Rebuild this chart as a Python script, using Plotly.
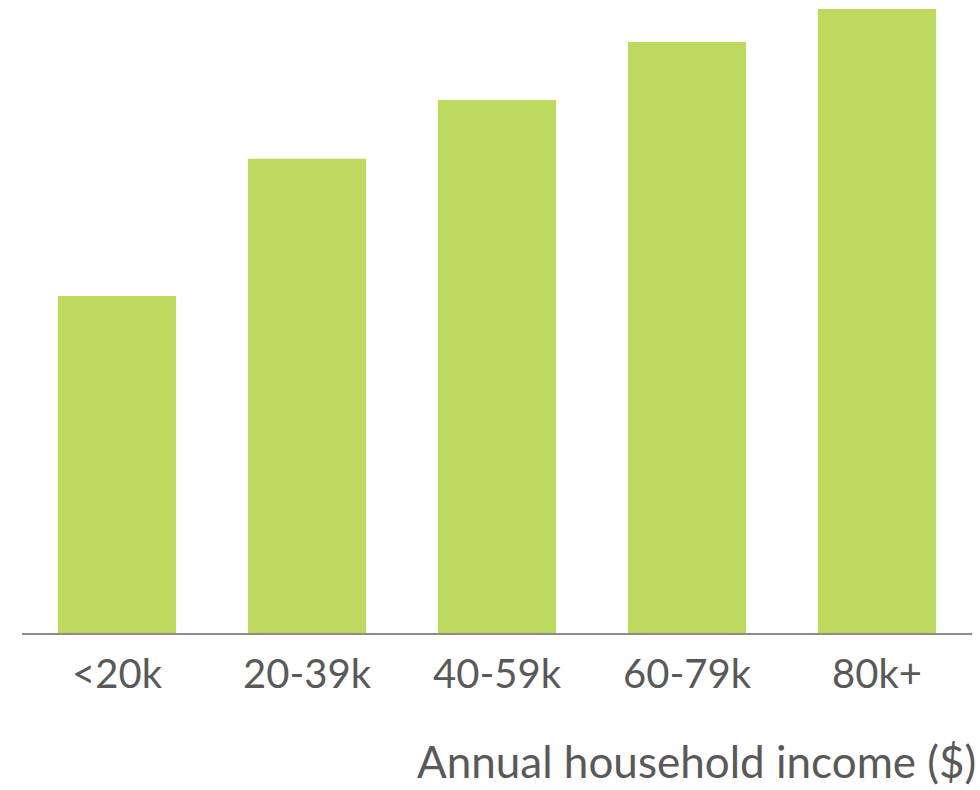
import plotly.graph_objects as go

# Share by annual household income bracket
income_brackets = ["<20k", "20-39k", "40-59k", "60-79k", "80k+"]
share_values = [54.0, 76.0, 85.4, 94.7, 100.0]

BAR_COLOR = "#bdd95e"
TEXT_COLOR = "#595959"
FONT = "Lato"
TICK_SIZE = 40
TITLE_SIZE = 44

fig = go.Figure(
    go.Bar(
        x=income_brackets,
        y=share_values,
        marker=dict(color=BAR_COLOR, line=dict(width=0)),
        hoverinfo="x+y",
    )
)

fig.update_layout(
    width=980,
    height=790,
    margin=dict(l=22, r=8, t=9, b=157),
    paper_bgcolor="white",
    plot_bgcolor="white",
    bargap=0.378,
    showlegend=False,
    font=dict(family=FONT, color=TEXT_COLOR, size=TICK_SIZE),
    xaxis=dict(
        showline=True,
        linecolor="#8c8c8c",
        linewidth=2,
        showgrid=False,
        ticks="",
        tickfont=dict(family=FONT, size=TICK_SIZE, color=TEXT_COLOR),
        ticklabelstandoff=5,
    ),
    yaxis=dict(
        range=[0, 100],
        visible=False,
        showgrid=False,
        zeroline=False,
    ),
    annotations=[
        dict(
            text="Annual household income ($)",
            xref="paper",
            yref="paper",
            x=1.0,
            y=0,
            xanchor="right",
            yanchor="middle",
            yshift=-128,
            xshift=6,
            showarrow=False,
            font=dict(family=FONT, size=TITLE_SIZE, color=TEXT_COLOR),
        )
    ],
)

fig.write_html("out.html")
